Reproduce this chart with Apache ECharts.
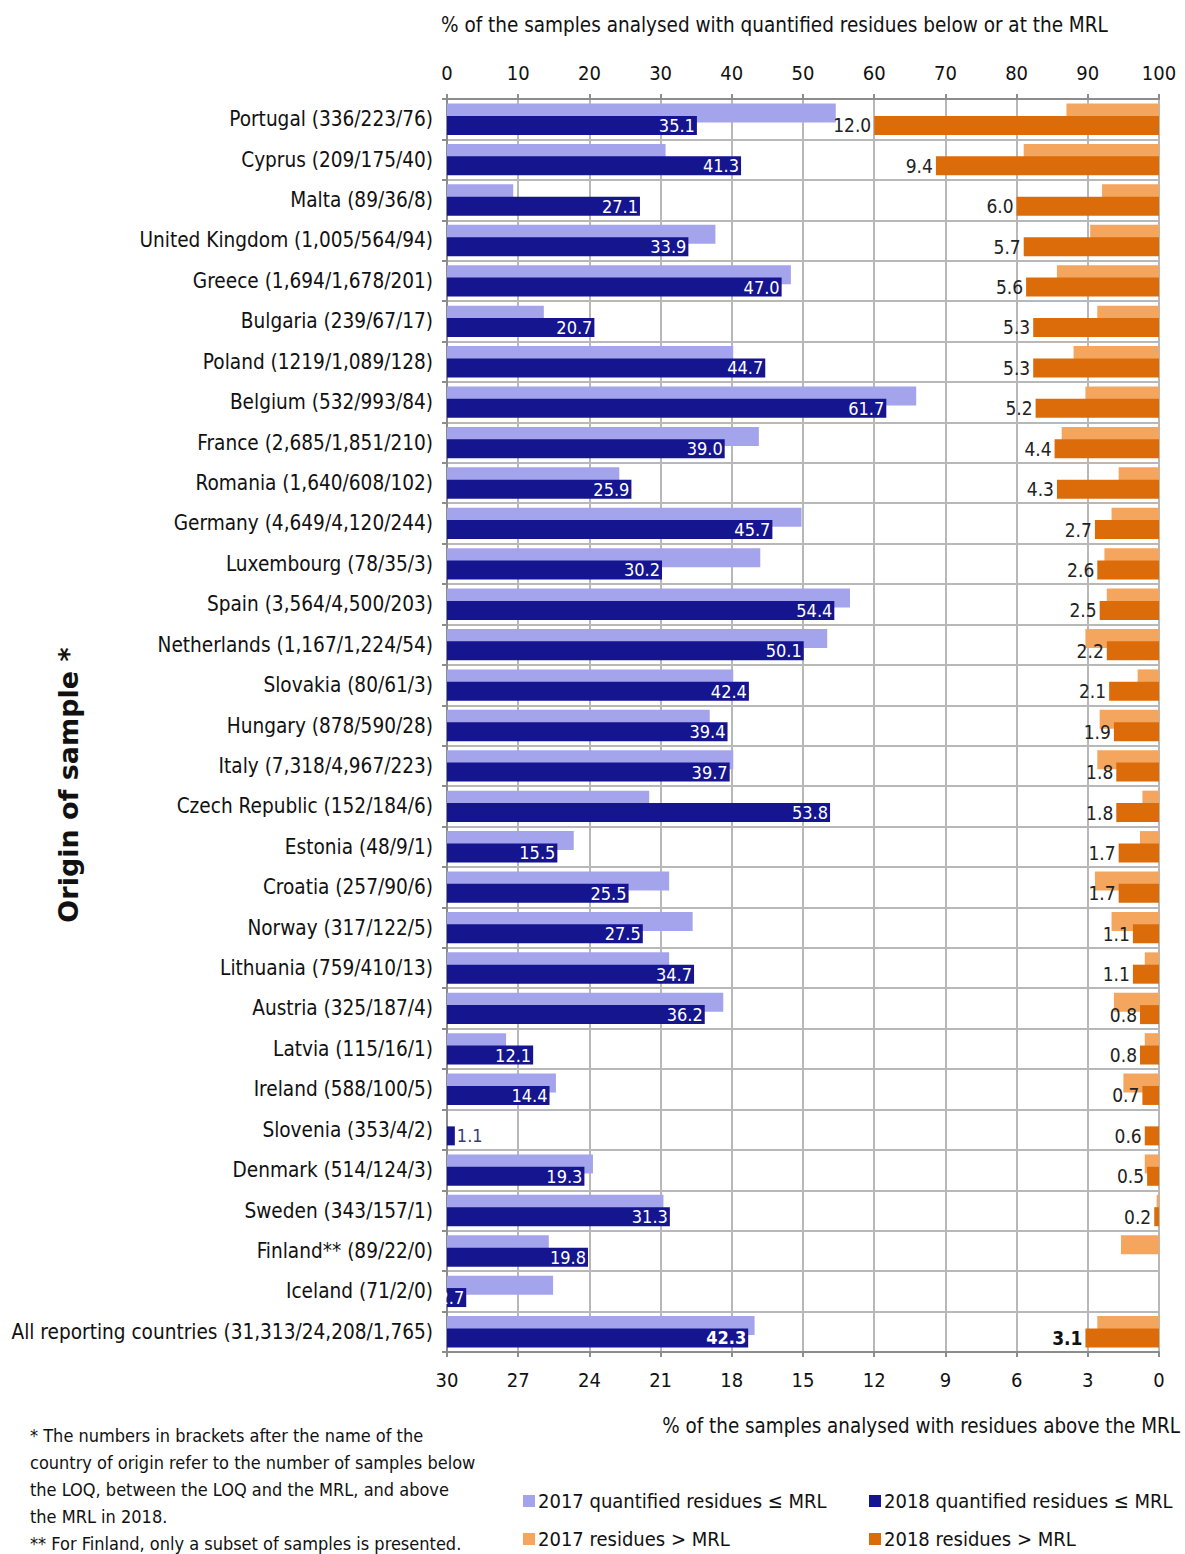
<!DOCTYPE html>
<html>
<head>
<meta charset="utf-8">
<script src="https://cdn.jsdelivr.net/npm/echarts@6/dist/echarts.min.js"></script>
<style>
html,body{margin:0;padding:0;background:#fff;}
#chart{width:1185px;height:1554px;}
</style>
</head>
<body>
<div id="chart"></div>
<script>
var categories = ['Portugal (336/223/76)','Cyprus (209/175/40)','Malta (89/36/8)','United Kingdom (1,005/564/94)','Greece (1,694/1,678/201)','Bulgaria (239/67/17)','Poland (1219/1,089/128)','Belgium (532/993/84)','France (2,685/1,851/210)','Romania (1,640/608/102)','Germany (4,649/4,120/244)','Luxembourg (78/35/3)','Spain (3,564/4,500/203)','Netherlands (1,167/1,224/54)','Slovakia (80/61/3)','Hungary (878/590/28)','Italy (7,318/4,967/223)','Czech Republic (152/184/6)','Estonia (48/9/1)','Croatia (257/90/6)','Norway (317/122/5)','Lithuania (759/410/13)','Austria (325/187/4)','Latvia (115/16/1)','Ireland (588/100/5)','Slovenia (353/4/2)','Denmark (514/124/3)','Sweden (343/157/1)','Finland** (89/22/0)','Iceland (71/2/0)','All reporting countries (31,313/24,208/1,765)'];

var quant2017 = [54.6,30.7,9.3,37.7,48.3,13.6,40.2,65.9,43.8,24.2,49.8,44.0,56.6,53.4,40.2,36.9,40.2,28.4,17.8,31.2,34.5,31.2,38.8,8.3,15.3,0,20.5,30.4,14.3,14.9,43.2];
var quant2018 = [35.1,41.3,27.1,33.9,47.0,20.7,44.7,61.7,39.0,25.9,45.7,30.2,54.4,50.1,42.4,39.4,39.7,53.8,15.5,25.5,27.5,34.7,36.2,12.1,14.4,1.1,19.3,31.3,19.8,2.7,42.3];
var above2017 = [3.9,5.7,2.4,2.9,4.3,2.6,3.6,3.1,4.1,1.7,2.0,2.3,2.2,3.1,0.9,2.5,2.6,0.7,0.8,2.7,2.0,0.6,1.9,0.6,1.5,0,0.6,0.1,1.6,0,2.6];
var above2018 = [12.0,9.4,6.0,5.7,5.6,5.3,5.3,5.2,4.4,4.3,2.7,2.6,2.5,2.2,2.1,1.9,1.8,1.8,1.7,1.7,1.1,1.1,0.8,0.8,0.7,0.6,0.5,0.2,0,0,3.1];

var topTicks = ['0','10','20','30','40','50','60','70','80','90','100'];
var bottomTicks = ['0','3','6','9','12','15','18','21','24','27','30'];

var FONT = "'DejaVu Sans Condensed','Liberation Sans Narrow','DejaVu Sans',sans-serif";
var C_L_BLUE = '#a4a4ec', C_D_BLUE = '#15158f', C_L_OR = '#f5a65e', C_D_OR = '#dc6c0a';
var GRIDC = '#b8b8b8';
var lastIdx = categories.length - 1;

var blue18 = quant2018.map(function (v, i) {
  var item = { value: v };
  if (v < 5) {
    item.label = { position: 'right', color: '#3a3a70' };
    if (i === 29) item.label = { position: 'insideRight', color: '#fff' };
  }
  if (i === lastIdx) item.label = { fontWeight: 'bold' };
  return item;
});
var orange18 = above2018.map(function (v, i) {
  var item = { value: v };
  if (i === lastIdx) item.label = { fontWeight: 'bold', color: '#111' };
  return item;
});

var legendText = { fontSize: 20, color: '#111', fontFamily: FONT, padding: [0, 0, 0, -2] };

var chart = echarts.init(document.getElementById('chart'), null, { renderer: 'svg' });
chart.setOption({
  animation: false,
  backgroundColor: '#fff',
  textStyle: { fontFamily: FONT },
  grid: { left: 447, right: 26, top: 99, bottom: 202, containLabel: false },
  xAxis: [{
    type: 'value', position: 'top', min: 0, max: 100, interval: 10,
    axisLine: { show: true, lineStyle: { color: '#8c8c8c', width: 2 } },
    axisTick: { show: true, length: 5, lineStyle: { color: '#8c8c8c', width: 2 } },
    axisLabel: { fontSize: 20, color: '#111', margin: 16, fontFamily: FONT,
      formatter: function (v) { return topTicks[Math.round(v / 10)]; } },
    splitLine: { show: true, lineStyle: { color: GRIDC, width: 2 } }
  }, {
    type: 'value', position: 'bottom', min: 0, max: 30, interval: 3, inverse: true,
    axisLine: { show: true, lineStyle: { color: '#8c8c8c', width: 2 } },
    axisTick: { show: true, length: 5, lineStyle: { color: '#8c8c8c', width: 2 } },
    axisLabel: { fontSize: 20, color: '#111', margin: 18, fontFamily: FONT,
      formatter: function (v) { return bottomTicks[Math.round(v / 3)]; } },
    splitLine: { show: false }
  }],
  yAxis: [{
    type: 'category', inverse: true, data: categories, position: 'left',
    axisLine: { show: true, lineStyle: { color: '#8c8c8c', width: 2 } },
    axisTick: { show: true, length: 5, interval: 0, lineStyle: { color: '#8c8c8c', width: 2 } },
    axisLabel: { fontSize: 20.6, color: '#111', margin: 14, interval: 0, fontFamily: FONT },
    splitLine: { show: true, interval: 0, lineStyle: { color: GRIDC, width: 2 } }
  }, {
    type: 'category', inverse: true, data: categories, position: 'right', show: false
  }],
  legend: [
    { data: ['2017 quantified residues ≤ MRL'], left: 518, top: 1486, itemWidth: 12, itemHeight: 12,
      icon: 'rect', textStyle: legendText },
    { data: ['2018 quantified residues ≤ MRL'], left: 864, top: 1486, itemWidth: 12, itemHeight: 12,
      icon: 'rect', textStyle: legendText },
    { data: ['2017 residues > MRL'], left: 518, top: 1524, itemWidth: 12, itemHeight: 12,
      icon: 'rect', textStyle: legendText },
    { data: ['2018 residues > MRL'], left: 864, top: 1524, itemWidth: 12, itemHeight: 12,
      icon: 'rect', textStyle: legendText }
  ],
  series: [{
    name: '2017 quantified residues ≤ MRL', type: 'bar', xAxisIndex: 0, yAxisIndex: 0,
    data: quant2017, barWidth: 19, barGap: '-35%', z: 2,
    itemStyle: { color: C_L_BLUE }
  }, {
    name: '2018 quantified residues ≤ MRL', type: 'bar', xAxisIndex: 0, yAxisIndex: 0,
    data: blue18, barWidth: 19, barGap: '-35%', z: 3,
    itemStyle: { color: C_D_BLUE },
    label: { show: true, position: 'insideRight', distance: 2, color: '#fff', fontSize: 18, fontFamily: FONT,
      formatter: function (p) { return p.value.toFixed(1); } }
  }, {
    name: '2017 residues > MRL', type: 'bar', xAxisIndex: 1, yAxisIndex: 1,
    data: above2017, barWidth: 19, barGap: '-35%', z: 2,
    itemStyle: { color: C_L_OR }
  }, {
    name: '2018 residues > MRL', type: 'bar', xAxisIndex: 1, yAxisIndex: 1,
    data: orange18, barWidth: 19, barGap: '-35%', z: 3,
    itemStyle: { color: C_D_OR },
    label: { show: true, position: 'left', distance: 3, color: '#222', fontSize: 19, fontFamily: FONT,
      formatter: function (p) { return p.value > 0 ? p.value.toFixed(1) : ''; } }
  }],
  graphic: [{
    type: 'text', left: 441, top: 14,
    style: { text: '% of the samples analysed with quantified residues below or at the MRL', fill: '#111', fontSize: 20.5, fontFamily: FONT }
  }, {
    type: 'text', right: 5, top: 1416,
    style: { text: '% of the samples analysed with residues above the MRL', fill: '#111', fontSize: 20.4, fontFamily: FONT }
  }, {
    type: 'text', x: 68, y: 785, rotation: Math.PI / 2,
    style: { text: 'Origin of sample *', fill: '#111', fontSize: 27, fontWeight: 'bold', fontFamily: 'DejaVu Sans, sans-serif', align: 'center', verticalAlign: 'middle' }
  }, {
    type: 'text', left: 30, top: 1422,
    style: { text: '* The numbers in brackets after the name of the\ncountry of origin refer to the number of samples below\nthe LOQ, between the LOQ and the MRL, and above\nthe MRL in 2018.\n** For Finland, only a subset of samples is presented.',
      fill: '#111', fontSize: 18, fontFamily: FONT, lineHeight: 27 }
  }]
});
</script>
</body>
</html>
